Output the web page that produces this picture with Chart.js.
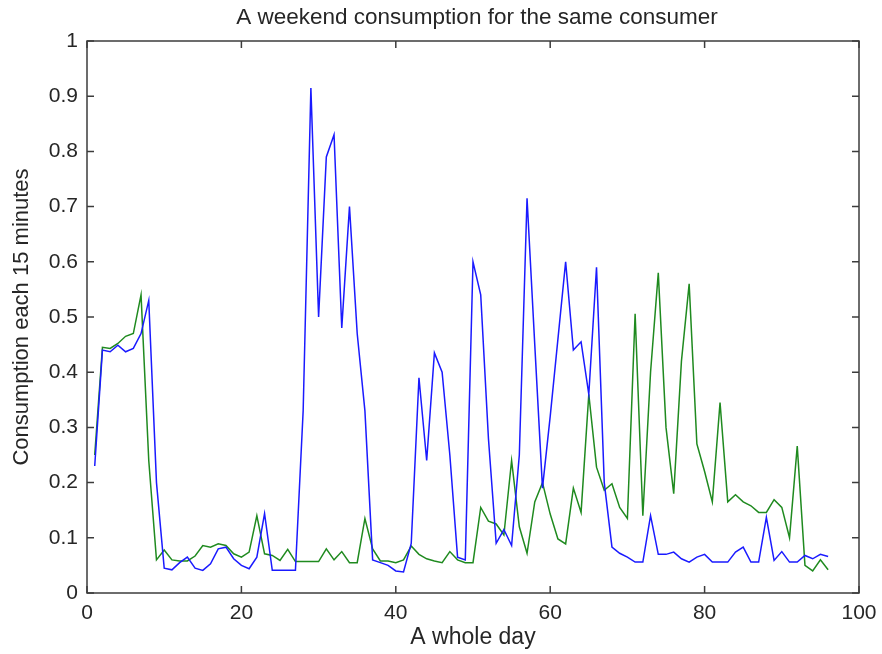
<!DOCTYPE html>
<html>
<head>
<meta charset="utf-8">
<title>Weekend consumption</title>
<script src="https://cdn.jsdelivr.net/npm/chart.js@4.4.1/dist/chart.umd.min.js"></script>
<style>
  html, body { margin: 0; padding: 0; background: #fff; }
</style>
</head>
<body>
<canvas id="consumptionChart" width="882" height="654"></canvas>
<script>
// quarter-hour slots of the day (1..96)
const slots = [
  1, 2, 3, 4, 5, 6, 7, 8, 9, 10, 11, 12, 13, 14, 15, 16,
  17, 18, 19, 20, 21, 22, 23, 24, 25, 26, 27, 28, 29, 30, 31, 32,
  33, 34, 35, 36, 37, 38, 39, 40, 41, 42, 43, 44, 45, 46, 47, 48,
  49, 50, 51, 52, 53, 54, 55, 56, 57, 58, 59, 60, 61, 62, 63, 64,
  65, 66, 67, 68, 69, 70, 71, 72, 73, 74, 75, 76, 77, 78, 79, 80,
  81, 82, 83, 84, 85, 86, 87, 88, 89, 90, 91, 92, 93, 94, 95, 96
];

// first day (blue)
const dayOneLoad = [
  0.23, 0.44, 0.437, 0.449, 0.437, 0.443, 0.47, 0.53, 0.2, 0.045, 0.042, 0.055, 0.065, 0.045, 0.041, 0.053,
  0.08, 0.083, 0.062, 0.05, 0.044, 0.065, 0.144, 0.041, 0.041, 0.041, 0.041, 0.33, 0.915, 0.50, 0.79, 0.83,
  0.48, 0.70, 0.47, 0.33, 0.06, 0.055, 0.05, 0.04, 0.038, 0.09, 0.39, 0.24, 0.435, 0.40, 0.25, 0.065,
  0.06, 0.60, 0.54, 0.28, 0.09, 0.115, 0.086, 0.25, 0.715, 0.45, 0.19, 0.32, 0.46, 0.60, 0.44, 0.455,
  0.36, 0.59, 0.2, 0.083, 0.072, 0.065, 0.056, 0.056, 0.14, 0.07, 0.07, 0.074, 0.062, 0.056, 0.065, 0.07,
  0.056, 0.056, 0.056, 0.074, 0.083, 0.056, 0.056, 0.137, 0.059, 0.075, 0.056, 0.056, 0.068, 0.062, 0.07, 0.066
];

// second day (green)
const dayTwoLoad = [
  0.25, 0.445, 0.443, 0.452, 0.465, 0.47, 0.54, 0.24, 0.06, 0.078, 0.06, 0.058, 0.058, 0.067, 0.086, 0.083,
  0.089, 0.086, 0.071, 0.065, 0.074, 0.14, 0.071, 0.068, 0.059, 0.079, 0.057, 0.057, 0.057, 0.057, 0.08, 0.06,
  0.075, 0.055, 0.055, 0.135, 0.08, 0.058, 0.058, 0.055, 0.06, 0.085, 0.07, 0.062, 0.058, 0.055, 0.075, 0.06,
  0.055, 0.055, 0.155, 0.13, 0.125, 0.105, 0.24, 0.12, 0.072, 0.165, 0.2, 0.143, 0.098, 0.089, 0.19, 0.146,
  0.36, 0.228, 0.186, 0.198, 0.155, 0.135, 0.506, 0.14, 0.40, 0.58, 0.30, 0.18, 0.42, 0.56, 0.27, 0.22,
  0.165, 0.345, 0.165, 0.178, 0.165, 0.158, 0.146, 0.146, 0.169, 0.155, 0.10, 0.266, 0.05, 0.04, 0.06, 0.042
];

const xTicks = [0, 20, 40, 60, 80, 100];
const yTicks = [0, 0.1, 0.2, 0.3, 0.4, 0.5, 0.6, 0.7, 0.8, 0.9, 1];
const chartTitle = 'A weekend consumption for the same consumer';

const FONT = "'Liberation Sans', Arial, sans-serif";
const TEXT = '#262626';
const TICK_LEN = 7;

// box round the plot with inward ticks on all four sides, title over the plot
const frameTicks = {
  id: 'frameTicks',
  afterDatasetsDraw(chart) {
    const { ctx, chartArea: a, scales } = chart;
    ctx.save();
    ctx.strokeStyle = '#3c3c3c';
    ctx.lineWidth = 1.5;
    ctx.strokeRect(a.left, a.top, a.right - a.left, a.bottom - a.top);
    ctx.beginPath();
    xTicks.forEach(v => {
      const px = scales.x.getPixelForValue(v);
      ctx.moveTo(px, a.bottom); ctx.lineTo(px, a.bottom - TICK_LEN);
      ctx.moveTo(px, a.top); ctx.lineTo(px, a.top + TICK_LEN);
    });
    yTicks.forEach(v => {
      const py = scales.y.getPixelForValue(v);
      ctx.moveTo(a.left, py); ctx.lineTo(a.left + TICK_LEN, py);
      ctx.moveTo(a.right, py); ctx.lineTo(a.right - TICK_LEN, py);
    });
    ctx.stroke();

    ctx.fillStyle = TEXT;
    ctx.font = '22.5px ' + FONT;
    ctx.textAlign = 'center';
    ctx.textBaseline = 'middle';
    ctx.fillText(chartTitle, (a.left + a.right) / 2 + 4, a.top - 23);
    ctx.restore();
  }
};

const toPoints = values => values.map((v, i) => ({ x: slots[i], y: v }));

new Chart(document.getElementById('consumptionChart').getContext('2d'), {
  type: 'line',
  data: {
    datasets: [
      {
        data: toPoints(dayOneLoad),
        borderColor: '#1a1aff',
        borderWidth: 1.5,
        pointRadius: 0,
        tension: 0
      },
      {
        data: toPoints(dayTwoLoad),
        borderColor: '#1f8a1f',
        borderWidth: 1.5,
        pointRadius: 0,
        tension: 0
      }
    ]
  },
  options: {
    responsive: false,
    animation: false,
    devicePixelRatio: 1,
    layout: { padding: { left: 0, right: 23, top: 41, bottom: 0 } },
    plugins: {
      legend: { display: false },
      tooltip: { enabled: false },
      title: { display: false }
    },
    scales: {
      x: {
        type: 'linear',
        min: 0,
        max: 100,
        afterFit: scale => {
          scale.height = 61;
          scale.paddingLeft = 0;
          scale.paddingRight = 0;
        },
        afterBuildTicks: scale => { scale.ticks = xTicks.map(v => ({ value: v })); },
        grid: { display: false, drawTicks: false },
        border: { display: false },
        ticks: {
          color: TEXT,
          padding: 8,
          maxRotation: 0,
          font: { family: FONT, size: 21 }
        },
        title: {
          display: true,
          text: 'A whole day',
          color: TEXT,
          font: { family: FONT, size: 23, lineHeight: 1.2 },
          padding: { top: 0, bottom: 3 }
        }
      },
      y: {
        min: 0,
        max: 1,
        afterFit: scale => { scale.width = 87; },
        afterBuildTicks: scale => { scale.ticks = yTicks.map(v => ({ value: v })); },
        grid: { display: false, drawTicks: false },
        border: { display: false },
        ticks: {
          color: TEXT,
          padding: 9,
          font: { family: FONT, size: 21 },
          callback: v => String(Number(v.toFixed(1)))
        },
        title: {
          display: true,
          text: 'Consumption each 15 minutes',
          color: TEXT,
          font: { family: FONT, size: 22, lineHeight: 1.2 },
          padding: { top: 9, bottom: 0 }
        }
      }
    }
  },
  plugins: [frameTicks]
});
</script>
</body>
</html>
